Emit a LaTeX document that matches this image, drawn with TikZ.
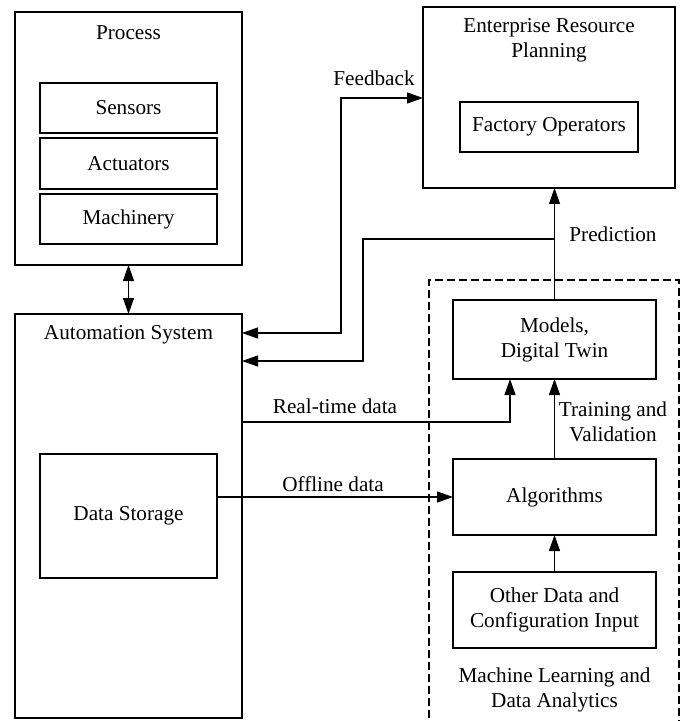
\documentclass[tikz,border=0pt]{standalone}
\usepackage{fontspec}
\setmainfont{Liberation Serif}
\usetikzlibrary{arrows.meta}
\begin{document}
\begin{tikzpicture}[x=0.5pt,y=-0.5pt,
  every node/.style={font=\fontsize{10.6pt}{12.5pt}\selectfont, inner sep=0pt, outer sep=0pt},
  box/.style={draw, line width=0.6pt, align=center},
  txt/.style={align=center},
  conn/.style={line width=0.6pt, -{Triangle[length=8pt,width=5.5pt]}},
  dconn/.style={line width=0.6pt, {Triangle[length=8pt,width=5.5pt]}-{Triangle[length=8pt,width=5.5pt]}},
  dashbox/.style={line width=0.6pt, dash pattern=on 4pt off 2pt}
]
\useasboundingbox (0,0) rectangle (688,721);
% Process
\node[box, minimum width=113.5pt, minimum height=126.5pt] (process) at (128.5,138.5) {};
\node[txt] (processlbl) at (128.5,33) {Process};
\node[box, minimum width=88.5pt, minimum height=25pt] (sensors) at (128.5,108) {Sensors};
\node[box, minimum width=88.5pt, minimum height=25.5pt] (actuators) at (128.5,163.5) {Actuators};
\node[box, minimum width=88.5pt, minimum height=25pt] (machinery) at (128.5,219) {Machinery};
% Automation
\node[box, minimum width=113.5pt, minimum height=202pt] (auto) at (128.5,516) {};
\node[txt] (autolbl) at (128.5,335) {Automation System};
\node[box, minimum width=88.5pt, minimum height=62pt] (storage) at (128.5,516) {Data Storage};
% ERP
\node[box, minimum width=126pt, minimum height=90.5pt] (erp) at (549,97.5) {};
\node[txt] (erplbl) at (549,40.5) {Enterprise Resource\\Planning};
\node[box, minimum width=89pt, minimum height=25pt] (factory) at (549,127) {Factory Operators};
% ML dashed region
\draw[dashbox] (429,730) -- (429,280) -- (679,280) -- (679,730);
\node[box, minimum width=101.5pt, minimum height=39.5pt] (models) at (554.5,339.5) {Models,\\Digital Twin};
\node[box, minimum width=101.5pt, minimum height=38pt] (algorithms) at (554.5,497) {Algorithms};
\node[box, minimum width=101.5pt, minimum height=38pt] (other) at (554.5,610) {Other Data and\\Configuration Input};
\node[txt] (mllbl) at (554.5,690) {Machine Learning and\\Data Analytics};
% coordinates
\coordinate (fb1) at (341,333);
\coordinate (fb2) at (341,98);
\coordinate (pr1) at (363,239);
\coordinate (pr2) at (363,361);
\coordinate (rt1) at (510,422);
% connectors
\draw[dconn] (process.south) -- (auto.north);
\draw[dconn] (fb1 -| auto.east) -- (fb1) -- (fb2) -- (fb2 -| erp.west);
\draw[conn] (models.north) -- (models.north |- erp.south);
\draw[conn] (models.north |- pr1) -- (pr1) -- (pr2) -- (pr2 -| auto.east);
\draw[conn] (rt1 -| auto.east) -- (rt1) -- (rt1 |- models.south);
\draw[conn] (storage.east |- algorithms.west) -- (algorithms.west);
\draw[conn] (algorithms.north) -- (models.south);
\draw[conn] (other.north) -- (algorithms.south);
% labels
\node[txt] (fblbl) at (374,78) {Feedback};
\node[txt] (prlbl) at (613,234) {Prediction};
\node[txt] (rtlbl) at (335,406) {Real-time data};
\node[txt] (offlbl) at (333,484) {Offline data};
\node[txt] (trlbl) at (613,422) {Training and\\Validation};
\end{tikzpicture}
\end{document}
